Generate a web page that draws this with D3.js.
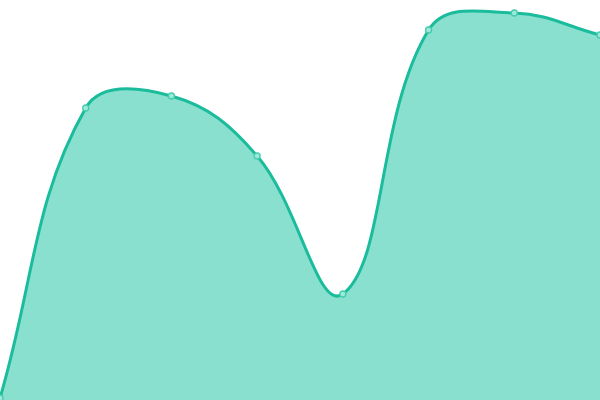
<!DOCTYPE html>
<html>
<head>
<meta charset="utf-8">
<script src="https://cdn.jsdelivr.net/npm/d3@7"></script>
<style>
  html, body { margin: 0; padding: 0; background: #fff; }
  svg { display: block; }
</style>
</head>
<body>
<svg id="chart" width="600" height="400"></svg>
<script>
const labels = ["1", "2", "3", "4", "5", "6", "7", "8"]
const values = [2, 292, 304, 244, 106, 370, 387, 365]
const yDomain = [0, 400]

const width = 600
const height = 400

// spline with distance weighted control points (tension 0.4),
// control points kept inside the plot area
function SplineCurve(context, tension) {
  this._context = context
  this._t = tension
}
SplineCurve.prototype = {
  areaStart() { this._line = 0 },
  areaEnd() { this._line = NaN },
  lineStart() { this._x = []; this._y = [] },
  lineEnd() {
    const x = this._x, y = this._y, n = x.length, t = this._t
    const clampX = v => Math.max(0, Math.min(width, v))
    const clampY = v => Math.max(0, Math.min(height, v))
    if (n) {
      this._line ? this._context.lineTo(x[0], y[0]) : this._context.moveTo(x[0], y[0])
      const cpIn = [], cpOut = []
      for (let i = 0; i < n; i++) {
        const p = i > 0 ? i - 1 : i
        const q = i < n - 1 ? i + 1 : i
        const d01 = Math.hypot(x[i] - x[p], y[i] - y[p])
        const d12 = Math.hypot(x[q] - x[i], y[q] - y[i])
        let s01 = d01 / (d01 + d12), s12 = d12 / (d01 + d12)
        if (isNaN(s01)) s01 = 0
        if (isNaN(s12)) s12 = 0
        const fa = t * s01, fb = t * s12
        cpIn.push([clampX(x[i] - fa * (x[q] - x[p])), clampY(y[i] - fa * (y[q] - y[p]))])
        cpOut.push([clampX(x[i] + fb * (x[q] - x[p])), clampY(y[i] + fb * (y[q] - y[p]))])
      }
      for (let i = 1; i < n; i++) {
        this._context.bezierCurveTo(cpOut[i - 1][0], cpOut[i - 1][1], cpIn[i][0], cpIn[i][1], x[i], y[i])
      }
    }
    if (this._line || (this._line !== 0 && n === 1)) this._context.closePath()
    this._line = 1 - this._line
    this._x = this._y = null
  },
  point(x, y) { this._x.push(+x); this._y.push(+y) }
}
const curve = context => new SplineCurve(context, 0.4)

const svg = d3.select("#chart")

const x = d3.scalePoint()
  .domain(labels)
  .range([0, width])

const y = d3.scaleLinear()
  .domain(yDomain)
  .range([height, 0])

const data = labels.map((label, i) => ({label, value: values[i]}))

svg.append("path")
  .datum(data)
  .attr("fill", "#89e0cf")
  .attr("d", d3.area()
    .curve(curve)
    .x(d => x(d.label))
    .y0(height)
    .y1(d => y(d.value)))

svg.append("path")
  .datum(data)
  .attr("fill", "none")
  .attr("stroke", "#1abc9c")
  .attr("stroke-width", 3)
  .attr("d", d3.line()
    .curve(curve)
    .x(d => x(d.label))
    .y(d => y(d.value)))

svg.append("g")
  .selectAll("circle")
  .data(data)
  .join("circle")
  .attr("cx", d => x(d.label))
  .attr("cy", d => y(d.value))
  .attr("r", 3)
  .attr("fill", "#a0e8da")
  .attr("stroke", "#45cbae")
  .attr("stroke-width", 1.3)
</script>
</body>
</html>
